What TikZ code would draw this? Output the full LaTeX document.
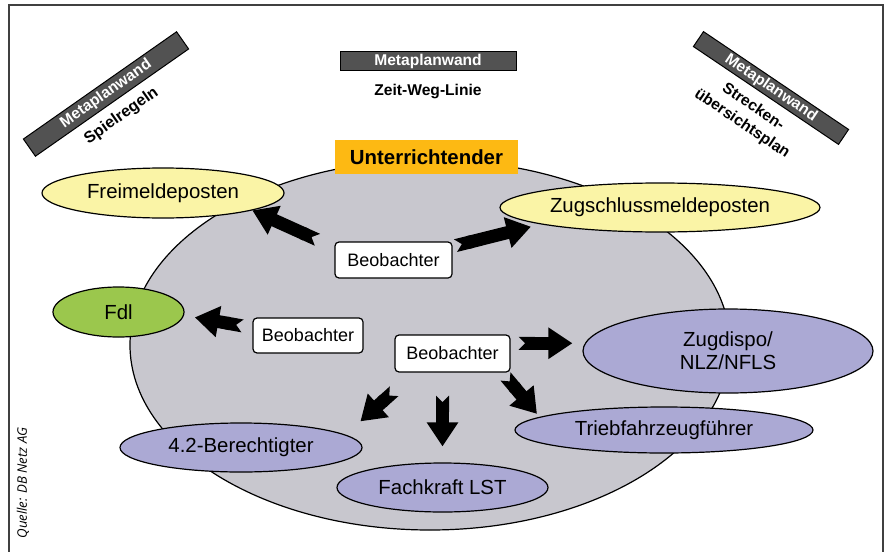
\documentclass[tikz,border=0pt]{standalone}
\usepackage{fontspec}
\setmainfont{Liberation Sans}
\newfontfamily\quellefont{Open Sans}
\usetikzlibrary{arrows.meta, shapes.geometric, positioning, calc}
\definecolor{raumgrau}{RGB}{200,199,206}
\definecolor{postengelb}{RGB}{250,244,166}
\definecolor{fdlgruen}{RGB}{155,199,77}
\definecolor{rollenlila}{RGB}{171,169,212}
\definecolor{leiterorange}{RGB}{253,185,19}
\definecolor{wandgrau}{RGB}{82,82,82}

\begin{document}
\begin{tikzpicture}[x=0.5pt, y=-0.5pt,
    rolle/.style={ellipse, draw, line width=0.6pt, inner sep=0pt,
      font=\fontsize{10.2}{11.5}\selectfont},
    beob/.style={draw, rounded corners=2pt, fill=white, line width=0.6pt,
      inner sep=0pt, font=\fontsize{9}{10}\selectfont},
    wand/.style={draw, fill=wandgrau, text=white, line width=0.5pt, inner sep=0pt,
      font=\bfseries\fontsize{7.8}{9}\selectfont},
    bigarrow/.style={line width=6.5pt,
      {Triangle Cap[reversed]}-{Triangle[length=12pt, width=15pt]}}]
		\useasboundingbox (0,0) rectangle (887,551);
		\draw[line width=0.7pt, black!75] (9,570) |- (883,5) -- (883,570);
		
		% Raum und Unterrichtender
		\node[ellipse, draw, line width=0.6pt, fill=raumgrau, minimum width=300pt, minimum height=185pt] (raum) at (430,345) {};
		\node[fill=leiterorange, minimum width=91.5pt, minimum height=17pt, inner sep=0pt,
		  font=\bfseries\fontsize{10.2}{12}\selectfont] (unt) at (426.5,157) {Unterrichtender};
		
		% Metaplanwaende
		\node[wand, minimum width=88pt, minimum height=9.5pt] (wandm) at (428,61.5) {Metaplanwand};
		\node[font=\bfseries\fontsize{7.8}{9}\selectfont] (zeit) at (428,92) {Zeit-Weg-Linie};
		\begin{scope}[shift={(106,94)}, rotate=35, transform shape]
			\node[wand, minimum width=93.5pt, minimum height=10.5pt] (wandl) at (0,0) {Metaplanwand};
			\node[font=\bfseries\fontsize{8}{9}\selectfont] (spiel) at (0,27) {Spielregeln};
		\end{scope}
		\begin{scope}[shift={(771,88)}, rotate=-34, transform shape]
			\node[wand, minimum width=87.5pt, minimum height=9pt] (wandr) at (0,0) {Metaplanwand};
			\node[align=center, font=\bfseries\fontsize{7.8}{10}\selectfont] (strecke) at (-4,36) {Strecken-\\übersichtsplan};
		\end{scope}
		
		% Rollen
		\node[rolle, fill=postengelb, minimum width=121pt, minimum height=25pt] (frei) at (163,193) {Freimeldeposten};
		\node[rolle, fill=postengelb, minimum width=160pt, minimum height=24.5pt] (zug) at (660,207.5) {Zugschlussmeldeposten};
		\node[rolle, fill=fdlgruen, minimum width=65.5pt, minimum height=25pt] (fdl) at (118.5,312) {Fdl};
		\node[rolle, fill=rollenlila, minimum width=145pt, minimum height=42pt, align=center] (zd) at (728,351) {Zugdispo/\\NLZ/NFLS};
		\node[rolle, fill=rollenlila, minimum width=149pt, minimum height=23pt] (trieb) at (664,430) {Triebfahrzeugführer};
		\node[rolle, fill=rollenlila, minimum width=121pt, minimum height=24.5pt] (ber) at (241,447.5) {4.2-Berechtigter};
		\node[rolle, fill=rollenlila, minimum width=105.5pt, minimum height=24.5pt] (fach) at (442.5,487.5) {Fachkraft LST};
		
		% Beobachter
		\node[beob, minimum width=58.5pt, minimum height=18pt] (b1) at (393.5,260) {Beobachter};
		\node[beob, minimum width=55pt, minimum height=17.5pt] (b2) at (308,335.5) {Beobachter};
		\node[beob, minimum width=57.5pt, minimum height=18.5pt] (b3) at (452.5,353.5) {Beobachter};
		
		% Pfeile
		\draw[bigarrow, shorten <=9.3pt] (b1.168) -- (frei.-11);
		\draw[bigarrow, shorten <=1.5pt, shorten >=5pt] (b1.13) -- (zug.188);
		\draw[bigarrow, shorten <=5pt, shorten >=5.5pt] (b2.172) -- (fdl.-3);
		\draw[bigarrow, shorten <=4pt, shorten >=5pt] (b3.10) -- (b3.10 -| zd.west);
		\draw[bigarrow, shorten <=14pt, shorten >=10pt] (b3.207) -- (ber.7);
		\draw[bigarrow, shorten <=11.5pt, shorten >=8pt] (fach.north |- b3.south) -- (fach.north);
		\draw[bigarrow, shorten <=2.5pt, shorten >=2pt] (b3.-21) -- (trieb.174);
		
		\node[rotate=90, font=\quellefont\itshape\fontsize{6.6}{7.5}\selectfont] (quelle) at (23,483) {Quelle: DB Netz AG};
	\end{tikzpicture}
\end{document}
